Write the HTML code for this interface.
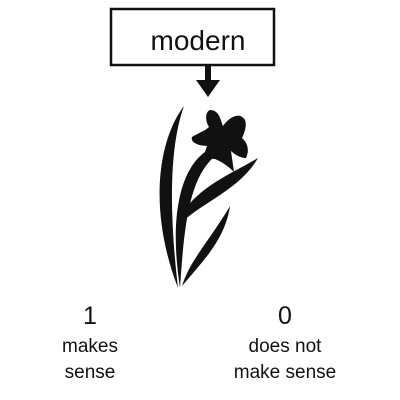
<!DOCTYPE html>
<html><head><style>
body{margin:0;width:400px;height:400px;background:#fff;position:relative;font-family:"Liberation Sans",sans-serif;overflow:hidden}
.t{position:absolute;text-align:center;color:#111}
</style></head><body>
<svg width="400" height="400" style="position:absolute;left:0;top:0">
<rect x="111" y="9" width="163" height="56" fill="#fff" stroke="#111" stroke-width="2.5"/>
<text x="198" y="50" font-size="28" text-anchor="middle" font-family="Liberation Sans" fill="#111">modern</text>
<rect x="205" y="65" width="6" height="16" fill="#111"/>
<polygon points="196,80 220,80 208,97" fill="#111"/>
<path d="M184,106 C158,140 148,210 178,288 C170,220 168,150 184,106 Z" fill="#111"/>
<path d="M208,150 C183,165 168,210 180,288 C184,230 188,180 214,157 Z" fill="#111"/>
<path d="M258,158 C230,175 188,190 176,228 C200,202 238,192 258,158 Z" fill="#111"/>
<path d="M230,206 C210,240 190,260 182,286 C202,262 225,240 230,206 Z" fill="#111"/>
<path d="M210,110 C220,110 221,122 223,126 C228,118 238,113 242,117 C248,120 246,130 242,138 C247,142 250,150 246,158 C240,158 234,154 231,151 L234,172 C227,165 220,161 215,159 C210,159 206,156 205,152 L207,146 C198,146 190,142 192,137 C198,133 205,131 209,127 C205,121 205,112 210,110 Z" fill="#111"/>
</svg>
<div class="t" style="left:40px;top:302px;width:100px;font-size:25px">1</div>
<div class="t" style="left:40px;top:334px;width:100px;font-size:19px;line-height:26px">makes<br>sense</div>
<div class="t" style="left:230px;top:302px;width:110px;font-size:25px">0</div>
<div class="t" style="left:220px;top:334px;width:130px;font-size:19px;line-height:26px">does not<br>make sense</div>
</body></html>
